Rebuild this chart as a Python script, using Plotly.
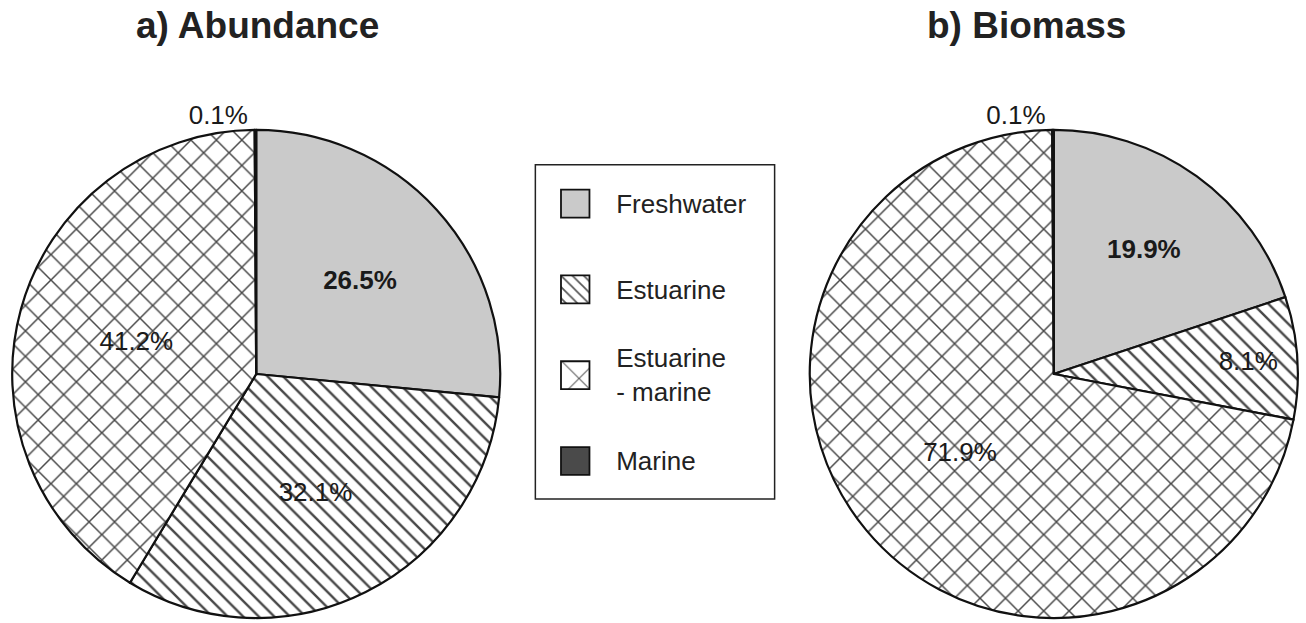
import plotly.graph_objects as go

# ---- data ----
categories = ["Freshwater", "Estuarine", "Estuarine<br>- marine", "Marine"]
abundance = [26.5, 32.1, 41.2, 0.1]
biomass = [19.9, 8.1, 71.9, 0.1]
titles = ["a) Abundance", "b) Biomass"]
bold_flags = [True, False, False, False]

# ---- styles ----
FONT = "Liberation Sans, Arial, Helvetica, sans-serif"
W, H = 1306, 623
fill_colors = ["#cacaca", "#ffffff", "#ffffff", "#4a4a4a"]
pattern_shapes = ["", "\\", "x", ""]
pattern_sizes = [10, 11, 18, 10]
pattern_solidity = [0.2, 0.22, 0.16, 0.2]
text_pos = ["inside", "inside", "inside", "outside"]


def labels_for(values):
    out = []
    for v, b in zip(values, bold_flags):
        s = f"{v:.1f}%"
        out.append(f"<b>{s}</b>" if b else s)
    return out


def pie(values, x0, x1):
    return go.Pie(
        labels=categories,
        values=values,
        text=labels_for(values),
        textinfo="text",
        textposition=text_pos,
        insidetextorientation="horizontal",
        textfont=dict(family=FONT, size=26, color="#1a1a1a"),
        sort=False,
        direction="clockwise",
        rotation=0,
        marker=dict(
            colors=fill_colors,
            line=dict(color="#111111", width=2.2),
            pattern=dict(shape=pattern_shapes, fgcolor="#333333", fgopacity=0.9,
                         size=pattern_sizes, solidity=pattern_solidity,
                         fillmode="overlay"),
        ),
        domain=dict(x=[x0 / W, x1 / W], y=[0, 1 - 131 / H]),
        showlegend=False,
        hoverinfo="label+text",
    )


fig = go.Figure()
fig.add_trace(pie(abundance, 10, 504))
fig.add_trace(pie(biomass, 810, 1304))

# legend swatches as a small bar chart
fig.add_trace(go.Bar(
    x=[1] * len(categories),
    y=categories,
    base=0,
    orientation="h",
    marker=dict(
        color=fill_colors,
        line=dict(color="#111111", width=1.8),
        pattern=dict(shape=pattern_shapes, fgcolor="#333333", fgopacity=0.9,
                     size=[8, 8, 28, 8], solidity=[0.2, 0.22, 0.07, 0.2],
                     fillmode="overlay"),
    ),
    xaxis="x3", yaxis="y3",
    showlegend=False,
    hoverinfo="skip",
))

annotations = [
    dict(text=f"<b>{titles[0]}</b>", x=258 / W, y=1 - 26 / H, xref="paper", yref="paper",
         showarrow=False, xanchor="center", yanchor="middle",
         font=dict(family=FONT, size=37, color="#222222")),
    dict(text=f"<b>{titles[1]}</b>", x=1030 / W, y=1 - 26 / H, xref="paper", yref="paper",
         showarrow=False, xanchor="center", yanchor="middle",
         font=dict(family=FONT, size=37, color="#222222")),
]

fig.update_layout(
    width=W, height=H,
    margin=dict(l=0, r=0, t=0, b=0),
    paper_bgcolor="white", plot_bgcolor="rgba(0,0,0,0)",
    bargap=0.675,
    annotations=annotations,
    shapes=[dict(type="rect", xref="paper", yref="paper",
                 x0=537 / W, x1=777 / W, y0=1 - 503 / H, y1=1 - 166 / H,
                 line=dict(color="#222222", width=1.5), fillcolor="rgba(0,0,0,0)",
                 layer="below")],
    xaxis3=dict(domain=[561 / W, 593 / W], range=[-0.06, 1.06], visible=False,
                anchor="y3", fixedrange=True),
    yaxis3=dict(domain=[1 - 508 / H, 1 - 162 / H], anchor="x3", side="right",
                range=[3.5, -0.5], showgrid=False, showline=False, zeroline=False,
                ticks="", ticklabelstandoff=24, fixedrange=True,
                tickfont=dict(family=FONT, size=26, color="#222222")),
    xaxis=dict(visible=False), yaxis=dict(visible=False),
)

fig.write_html(
    "out.html",
    config={"displayModeBar": False},
    post_script="document.body.style.margin='0';document.body.style.overflow='hidden';",
)
